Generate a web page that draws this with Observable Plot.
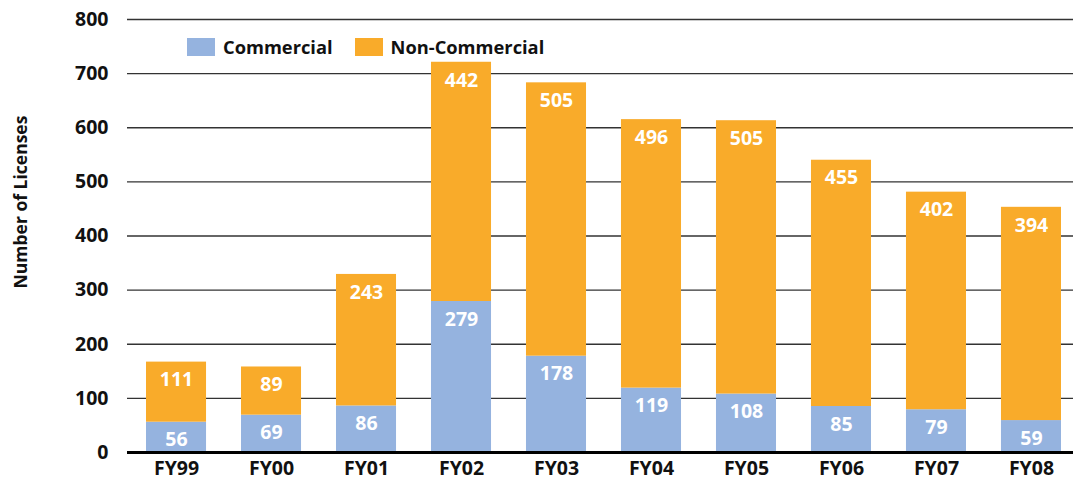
<!DOCTYPE html>
<html>
<head>
<meta charset="utf-8">
<script src="https://cdn.jsdelivr.net/npm/d3@7"></script>
<script src="https://cdn.jsdelivr.net/npm/@observablehq/plot@0.6"></script>
<style>
  html, body { margin: 0; padding: 0; background: #fff; }
  #wrap { position: relative; width: 1080px; height: 482px; font-family: "Open Sans", sans-serif; }
  .legend { position: absolute; left: 187px; top: 34px; display: flex; align-items: center; font-size: 18.3px; font-weight: 700; color: #111; }
  .legend .sw { width: 28px; height: 18px; margin-right: 8px; }
  .legend .item { display: flex; align-items: center; margin-right: 22px; }
  .ytitle { position: absolute; left: 20px; top: 202px; transform: translate(-50%, -50%) rotate(-90deg); white-space: nowrap; font-size: 17.5px; font-weight: 700; color: #111; }
</style>
</head>
<body>
<div id="wrap"></div>
<script>
const years = ["FY99","FY00","FY01","FY02","FY03","FY04","FY05","FY06","FY07","FY08"];
const commercial = [56, 69, 86, 279, 178, 119, 108, 85, 79, 59];
const nonCommercial = [111, 89, 243, 442, 505, 496, 505, 455, 402, 394];
const seriesNames = ["Commercial", "Non-Commercial"];
const seriesColors = ["#95B3DF", "#F9AB2A"];
const yTicks = [0, 100, 200, 300, 400, 500, 600, 700, 800];
const yTitle = "Number of Licenses";

const rows = [];
years.forEach((yr, i) => {
  rows.push({year: yr, series: seriesNames[0], value: commercial[i], y1: 0, y2: commercial[i]});
  rows.push({year: yr, series: seriesNames[1], value: nonCommercial[i], y1: commercial[i], y2: commercial[i] + nonCommercial[i]});
});

const chart = Plot.plot({
  width: 1080,
  height: 482,
  marginLeft: 127,
  marginRight: 7,
  marginTop: 19,
  marginBottom: 30,
  style: {fontFamily: "'Open Sans', sans-serif", fontSize: "19px", fontWeight: 700, color: "#111", background: "#fff"},
  x: {domain: years, range: [127, 1080], round: false, paddingInner: 0.368, paddingOuter: 0.2, label: null},
  y: {domain: [0, 800], ticks: yTicks, label: null},
  color: {domain: seriesNames, range: seriesColors},
  marks: [
    Plot.ruleY(yTicks.filter(d => d > 0), {stroke: "#333", strokeWidth: 1.4}),
    Plot.barY(rows, {x: "year", y1: "y1", y2: "y2", fill: "series"}),
    Plot.text(rows, {x: "year", y: "y2", text: d => String(d.value), dy: 18, fill: "white", fontSize: 19.5, fontWeight: 700}),
    Plot.ruleY([0], {stroke: "#000", strokeWidth: 3}),
    Plot.axisY({ticks: yTicks, tickSize: 0, tickPadding: 19, fontSize: 19.5, fontWeight: 700, label: null}),
    Plot.axisX({tickSize: 0, tickPadding: 9, fontSize: 19.5, fontWeight: 700, label: null})
  ]
});
const wrap = document.getElementById("wrap");
wrap.appendChild(chart);

const title = document.createElement("div");
title.className = "ytitle";
title.textContent = yTitle;
wrap.appendChild(title);

const legend = document.createElement("div");
legend.className = "legend";
seriesNames.forEach((name, i) => {
  const item = document.createElement("div");
  item.className = "item";
  const sw = document.createElement("div");
  sw.className = "sw";
  sw.style.background = seriesColors[i];
  const t = document.createElement("span");
  t.textContent = name;
  item.appendChild(sw);
  item.appendChild(t);
  legend.appendChild(item);
});
wrap.appendChild(legend);
</script>
</body>
</html>
